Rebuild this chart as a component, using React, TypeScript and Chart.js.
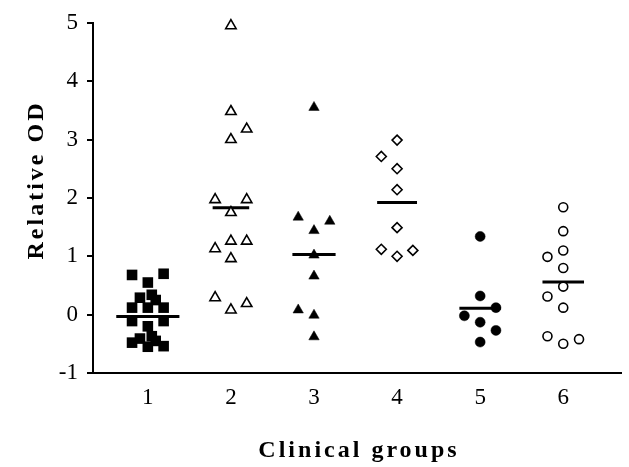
import React, { useEffect, useRef } from "react";
import { Chart, registerables } from "chart.js";

Chart.register(...registerables);

// ---- data ----
const groupLabels = ["1", "2", "3", "4", "5", "6"];
const yTickValues = [-1, 0, 1, 2, 3, 4, 5];
const xAxisTitle = "Clinical groups";
const yAxisTitle = "Relative OD";

const group1Values = [0.68, 0.12, -0.11, -0.48, 0.29, -0.41, 0.55, 0.12, -0.2, -0.55, 0.34, -0.37, 0.25, -0.45, 0.7, 0.12, -0.11, -0.54];
const group1Lanes = [-2, -2, -2, -2, -1, -1, 0, 0, 0, 0, 0.5, 0.5, 1, 1, 2, 2, 2, 2];

const group2Values = [4.95, 3.48, 3.18, 3.0, 1.97, 1.97, 1.75, 1.26, 1.26, 1.13, 0.96, 0.29, 0.19, 0.08];
const group2Lanes = [0, 0, 2, 0, -2, 2, 0, 0, 2, -2, 0, -2, 2, 0];

const group3Values = [3.55, 1.67, 1.6, 1.44, 1.02, 0.66, 0.08, -0.01, -0.38];
const group3Lanes = [0, -2, 2, 0, 0, 0, -2, 0, 0];

const group4Values = [2.99, 2.71, 2.5, 2.14, 1.49, 1.12, 1.0, 1.1];
const group4Lanes = [0, -2, 0, 0, 0, -2, 0, 2];

const group5Values = [1.34, 0.32, 0.12, -0.02, -0.13, -0.27, -0.47];
const group5Lanes = [0, 0, 2, -2, 0, 2, 0];

const group6Values = [1.84, 1.43, 1.1, 0.99, 0.8, 0.48, 0.31, 0.12, -0.37, -0.5, -0.42];
const group6Lanes = [0, 0, 0, -2, 0, 0, -2, 0, -2, 0, 2];

const medians = [-0.03, 1.83, 1.03, 1.92, 0.11, 0.56];
const medianHalfWidths = [0.38, 0.22, 0.26, 0.24, 0.25, 0.25];

// ---- helpers ----
const LANE = 0.095;
const FONT_FAMILY = "'Liberation Serif', 'Times New Roman', Times, serif";

function points(groupIndex: number, values: number[], lanes: number[]) {
  return values.map((v, i) => ({ x: groupIndex + 1 + lanes[i] * LANE, y: v }));
}

const axisTitlePlugin = {
  id: "axisTitles",
  afterDraw(chart: any) {
    const ctx = chart.ctx as CanvasRenderingContext2D;
    ctx.save();
    ctx.fillStyle = "#000";
    ctx.font = `bold 24px ${FONT_FAMILY}`;
    (ctx as any).letterSpacing = "3px";
    ctx.textAlign = "center";
    ctx.textBaseline = "alphabetic";
    ctx.fillText(xAxisTitle, 359, 457);
    ctx.translate(43, 180);
    ctx.rotate(-Math.PI / 2);
    ctx.fillText(yAxisTitle, 0, 0);
    ctx.restore();
  },
};

export default function App() {
  const canvasRef = useRef<HTMLCanvasElement | null>(null);

  useEffect(() => {
    const canvas = canvasRef.current;
    if (!canvas) return;

    const markerBase = { showLine: false, clip: false, borderColor: "#000", pointBorderColor: "#000" };

    const datasets: any[] = [
      { ...markerBase, label: "1", data: points(0, group1Values, group1Lanes), pointStyle: "rect", pointRadius: 7.5, pointBackgroundColor: "#000", pointBorderWidth: 0 },
      { ...markerBase, label: "2", data: points(1, group2Values, group2Lanes), pointStyle: "triangle", pointRadius: 6, pointBackgroundColor: "#fff", pointBorderWidth: 1.6 },
      { ...markerBase, label: "3", data: points(2, group3Values, group3Lanes), pointStyle: "triangle", pointRadius: 6, pointBackgroundColor: "#000", pointBorderWidth: 0.5 },
      { ...markerBase, label: "4", data: points(3, group4Values, group4Lanes), pointStyle: "rectRot", pointRadius: 5, pointBackgroundColor: "#fff", pointBorderWidth: 1.6 },
      { ...markerBase, label: "5", data: points(4, group5Values, group5Lanes), pointStyle: "circle", pointRadius: 5, pointBackgroundColor: "#000", pointBorderWidth: 0.5 },
      { ...markerBase, label: "6", data: points(5, group6Values, group6Lanes), pointStyle: "circle", pointRadius: 4.5, pointBackgroundColor: "#fff", pointBorderWidth: 1.6 },
    ];

    medians.forEach((m, i) => {
      datasets.push({
        type: "line",
        label: "median " + groupLabels[i],
        data: [
          { x: i + 1 - medianHalfWidths[i], y: m },
          { x: i + 1 + medianHalfWidths[i], y: m },
        ],
        borderColor: "#000",
        borderWidth: 3,
        pointRadius: 0,
        showLine: true,
        fill: false,
      });
    });

    const chart = new Chart(canvas, {
      type: "scatter",
      data: { datasets },
      options: {
        animation: false,
        responsive: false,
        maintainAspectRatio: false,
        devicePixelRatio: 1,
        layout: { padding: { top: 19, left: 0, right: 1, bottom: 0 } },
        plugins: { legend: { display: false }, tooltip: { enabled: false }, title: { display: false } },
        scales: {
          x: {
            type: "linear",
            min: 0.34,
            max: 6.7,
            afterBuildTicks: (scale: any) => {
              scale.ticks = groupLabels.map((_, i) => ({ value: i + 1 }));
            },
            afterFit: (scale: any) => {
              scale.height = 94;
            },
            ticks: {
              autoSkip: false,
              maxRotation: 0,
              padding: 11,
              color: "#000",
              font: { family: FONT_FAMILY, size: 23 },
              callback: (_v: any, index: number) => groupLabels[index],
            },
            grid: { display: false, drawTicks: false },
            border: { display: true, color: "#000", width: 2 },
          },
          y: {
            type: "linear",
            min: -1,
            max: 5,
            afterBuildTicks: (scale: any) => {
              scale.ticks = yTickValues.map((v) => ({ value: v }));
            },
            afterFit: (scale: any) => {
              scale.width = 93;
            },
            ticks: {
              padding: 9,
              color: "#000",
              font: { family: FONT_FAMILY, size: 23 },
              callback: (v: any) => String(v),
            },
            grid: { display: true, drawOnChartArea: false, drawTicks: true, tickLength: 6, color: "#000", lineWidth: 2 },
            border: { display: true, color: "#000", width: 2 },
          },
        },
      } as any,
      plugins: [axisTitlePlugin],
    });

    return () => chart.destroy();
  }, []);

  return (
    <div style={{ position: "fixed", left: 0, top: 0, width: 629, height: 467, background: "#fff" }}>
      <canvas ref={canvasRef} width={629} height={467} style={{ width: 629, height: 467, display: "block" }} />
    </div>
  );
}
